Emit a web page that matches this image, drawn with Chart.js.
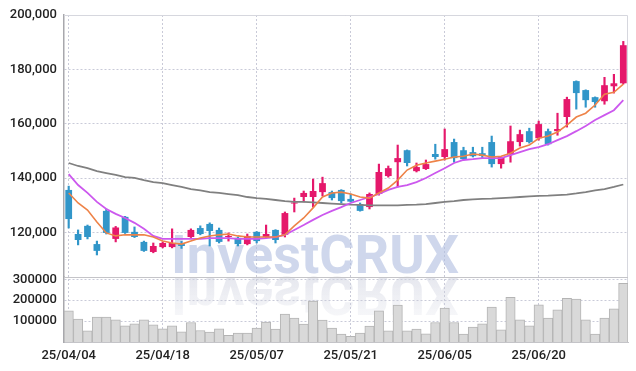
<!DOCTYPE html>
<html>
<head>
<meta charset="utf-8">
<script src="https://cdn.jsdelivr.net/npm/chart.js@4.4.1/dist/chart.umd.min.js"></script>
<style>
  html, body { margin: 0; padding: 0; background: #fff; }
  #wrap { width: 636px; height: 371px; }
</style>
</head>
<body>
<div id="wrap"><canvas id="c" width="636" height="371"></canvas></div>
<script>
const dates = ['25/04/04','25/04/07','25/04/08','25/04/09','25/04/10','25/04/11','25/04/14','25/04/15','25/04/16','25/04/17',
  '25/04/18','25/04/21','25/04/22','25/04/23','25/04/24','25/04/25','25/04/28','25/04/29','25/04/30','25/05/02',
  '25/05/07','25/05/08','25/05/09','25/05/12','25/05/13','25/05/14','25/05/15','25/05/16','25/05/19','25/05/20',
  '25/05/21','25/05/22','25/05/23','25/05/26','25/05/27','25/05/28','25/05/29','25/05/30','25/06/02','25/06/04',
  '25/06/05','25/06/09','25/06/10','25/06/11','25/06/12','25/06/13','25/06/16','25/06/17','25/06/18','25/06/19',
  '25/06/20','25/06/23','25/06/24','25/06/25','25/06/26','25/06/27','25/06/30','25/07/01','25/07/02','25/07/03'];

const opens = [135700,119500,122500,115800,128000,117700,125800,120300,116600,112900,
  114700,114700,115800,118400,121700,123200,121000,118400,118100,115800,
  120300,118400,121000,119200,130700,133100,133100,134900,134900,135700,
  132400,130500,129400,134200,140800,145900,150300,142600,143400,148900,
  147800,153300,150300,149600,149200,153300,145200,148900,153300,157300,
  154700,157300,157300,162500,175700,172400,169800,168300,173800,174900];
const highs = [137100,121000,122800,116900,128700,122300,126000,122100,116900,116200,
  116600,121400,116800,121400,122500,123600,121700,119900,118400,119500,
  120400,122800,121100,127600,132700,135300,139700,140400,135300,135800,
  134200,130900,134600,145200,144500,152200,150400,145600,146700,152500,
  158100,154400,151400,151400,151400,155500,147900,159200,157700,158400,
  161000,158100,163900,169800,175800,172500,169900,177100,178200,190300];
const lows = [121700,115500,117700,111800,119500,116600,119700,118200,113100,112600,
  114400,114400,114200,118200,119200,115100,116200,116900,115100,115500,
  116200,118300,116200,118400,127600,131300,129400,133500,132000,130900,
  131300,127900,128700,133800,140400,136800,144500,142300,143200,147000,
  146700,145900,146900,147800,147400,144100,143700,145900,151800,152900,
  154000,152200,155800,158800,165400,166100,166100,167200,171300,174600];
const closes = [125000,117300,118400,113300,119900,121900,119900,118400,113300,115100,
  116200,116200,115100,121000,119500,120600,116600,118800,115800,118800,
  116900,119500,117300,127200,131000,134600,135300,138200,132700,131600,
  131400,128000,134200,142300,143700,147400,145600,144100,145200,147800,
  150700,147400,147000,148100,148200,145200,147800,153600,156200,153300,
  159900,152500,158100,169100,171300,168700,168000,174200,174900,188900];
const volumes = [149000,109500,53800,119000,119000,106200,77600,87100,106200,82400,
  63300,77600,49000,93300,55200,48000,62500,31400,42900,42900,
  66700,95200,61900,133300,114300,85700,195200,104800,66700,38100,
  26700,42900,76200,149000,53800,176200,53800,61900,39500,93300,
  161900,93300,38100,71400,87100,166700,58600,214300,106200,77600,
  177600,114300,153800,209500,204800,106200,38100,114300,158600,281000];
const ma5 = [134600,130900,128300,123900,119900,118800,119200,119200,119200,118400,
  116900,116200,115800,116900,118000,118800,119200,119500,118800,118400,
  118400,118400,118400,119200,122500,125400,129100,133100,134600,134900,
  134200,133100,132700,134600,136400,139300,143000,144800,145600,146300,
  147000,147800,148100,148900,148500,147800,148100,149200,151100,152200,
  154700,155500,157000,159500,162500,163900,166900,170900,171600,174600];
const ma10 = [141500,137500,134600,131300,128700,126900,125400,123600,121400,118800,
  117700,117700,117700,117700,117700,118000,118000,118000,117700,117700,
  117700,118000,118400,119200,121000,122800,124700,126500,128000,129400,
  130900,132000,133100,134200,135700,136800,137500,138600,140100,141900,
  143700,145600,146700,147000,147400,147400,147400,148500,149600,150700,
  151400,152500,154000,155500,157300,159200,161400,163200,165000,168700];
const maLong = [145600,144500,143700,142600,141900,141200,140400,140100,139300,138600,
  138200,137500,136800,136000,135500,134900,134600,134200,133800,133100,
  132700,132400,132000,131600,131300,131300,131100,130900,130700,130500,
  130300,130200,130000,130000,130000,130000,130200,130300,130500,130900,
  131300,131600,132000,132200,132400,132500,132700,132900,133100,133300,
  133500,133600,133800,134000,134400,134900,135500,136000,136800,137700];
const priceTicks = [120000,140000,160000,180000,200000];
const volumeTicks = [100000,200000,300000];

const UP = '#e5186b', DOWN = '#3196c9';
const candleColors = closes.map((c, i) => c >= opens[i] ? UP : DOWN);

const framePlugin = {
  id: 'frame',
  beforeDatasetsDraw(chart) {
    const ctx = chart.ctx, a = chart.chartArea;
    const py = chart.scales.y;
    const base = py.bottom - 4;
    const cx = chart.width / 2 - 3;
    const font = 'bold 54px "Liberation Sans Narrow", "Roboto", sans-serif';
    ctx.save();
    ctx.font = font;
    ctx.textAlign = 'center';
    ctx.textBaseline = 'alphabetic';
    ctx.fillStyle = 'rgba(178,190,224,0.62)';
    ctx.fillText('InvestCRUX', cx, base);
    ctx.restore();
    ctx.save();
    ctx.translate(0, base * 2 + 4);
    ctx.scale(1, -1);
    const g = ctx.createLinearGradient(0, base, 0, base - 42);
    g.addColorStop(0, 'rgba(205,208,222,0.5)');
    g.addColorStop(1, 'rgba(205,208,222,0.15)');
    ctx.font = font;
    ctx.textAlign = 'center';
    ctx.fillStyle = g;
    ctx.fillText('InvestCRUX', cx, base);
    ctx.restore();
    ctx.save();
    ctx.strokeStyle = '#d6d7de';
    ctx.lineWidth = 1;
    ctx.beginPath();
    ctx.moveTo(a.left, a.top + 0.5); ctx.lineTo(a.right - 0.5, a.top + 0.5); ctx.lineTo(a.right - 0.5, a.bottom);
    ctx.stroke();
    ctx.strokeStyle = '#c4c4c8';
    ctx.beginPath();
    ctx.moveTo(a.left, Math.round(py.bottom) + 0.5); ctx.lineTo(a.right, Math.round(py.bottom) + 0.5);
    ctx.stroke();
    ctx.restore();
  }
};

const tickFont = { family: 'Roboto', size: 13, weight: '500' };

new Chart(document.getElementById('c'), {
  type: 'bar',
  data: {
    labels: dates,
    datasets: [
      { type: 'line', label: 'MA5', data: ma5, yAxisID: 'y', borderColor: '#ee8348', borderWidth: 1.6, pointRadius: 0, order: 0 },
      { type: 'line', label: 'MA10', data: ma10, yAxisID: 'y', borderColor: '#cc58ee', borderWidth: 1.8, pointRadius: 0, order: 0 },
      { type: 'line', label: 'MA', data: maLong, yAxisID: 'y', borderColor: '#808080', borderWidth: 1.8, pointRadius: 0, order: 0 },
      { label: 'body', data: opens.map((o, i) => [o, closes[i]]), yAxisID: 'y', backgroundColor: candleColors,
        borderWidth: 0, barPercentage: 0.72, categoryPercentage: 1, grouped: false, minBarLength: 1, order: 1 },
      { label: 'wick', data: lows.map((l, i) => [l, highs[i]]), yAxisID: 'y', backgroundColor: candleColors,
        borderWidth: 0, barThickness: 1.5, grouped: false, order: 2 },
      { label: 'volume', data: volumes, yAxisID: 'y2', backgroundColor: '#d9d9d9', borderColor: '#b4b4b4',
        borderWidth: 1, barPercentage: 1, categoryPercentage: 1, grouped: false, order: 3 }
    ]
  },
  options: {
    responsive: false,
    animation: false,
    events: [],
    layout: { padding: { top: 15, right: 8, left: 0, bottom: 0 } },
    plugins: { legend: { display: false }, tooltip: { enabled: false } },
    scales: {
      x: {
        type: 'category',
        offset: true,
        grid: { offset: false, color: '#c9cad8', drawTicks: false },
        border: { display: true, color: '#c4c4c8', dash: [2, 2] },
        ticks: { autoSkip: false, maxRotation: 0, padding: 6, color: '#222', font: tickFont },
        afterBuildTicks(s) { s.ticks = s.ticks.filter(t => t.value % 10 === 0); },
        afterFit(s) { s.height = 29; }
      },
      y2: {
        type: 'linear', position: 'left', stack: 'main', stackWeight: 65,
        min: 0, max: 311000,
        grid: { color: '#c9cad8', drawTicks: false },
        border: { color: '#a8a8ad', width: 1.5, dash: [2, 2] },
        ticks: { autoSkip: false, stepSize: 100000, includeBounds: false, padding: 7, color: '#222', font: tickFont,
          callback: v => String(v) },
        afterBuildTicks(s) { s.ticks = volumeTicks.map(v => ({ value: v })); },
        afterFit(s) { s.width = 64; }
      },
      y: {
        type: 'linear', position: 'left', stack: 'main', stackWeight: 262,
        min: 103700, max: 200000,
        grid: { color: '#c9cad8', drawTicks: false },
        border: { color: '#a8a8ad', width: 1.5, dash: [2, 2] },
        ticks: { autoSkip: false, stepSize: 20000, includeBounds: false, padding: 7, color: '#222', font: tickFont,
          callback: v => v.toLocaleString('en-US') },
        afterBuildTicks(s) { s.ticks = priceTicks.map(v => ({ value: v })); },
        afterFit(s) { s.width = 64; }
      }
    }
  },
  plugins: [framePlugin]
});
</script>
</body>
</html>
